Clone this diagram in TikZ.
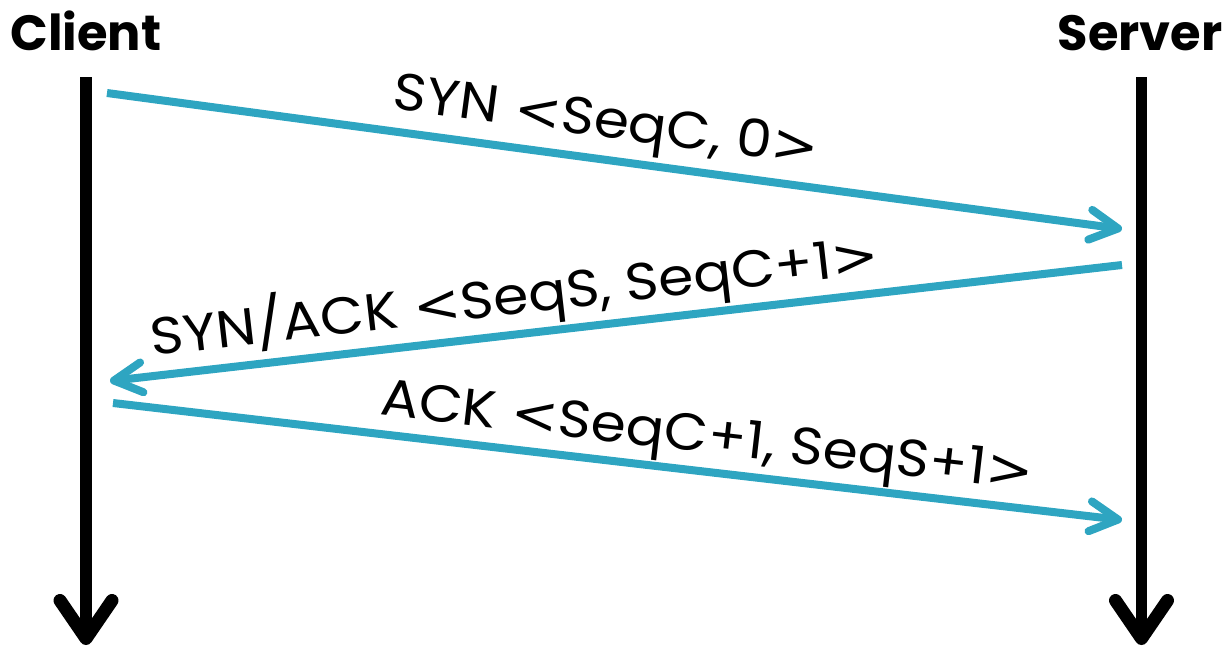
\documentclass[tikz,border=0pt]{standalone}
\usepackage{fontspec}
\setmainfont{Poppins}
\newfontfamily\anglefont{DejaVu Sans}
\usetikzlibrary{arrows.meta}
\definecolor{msgblue}{RGB}{46,165,193}
% angle brackets drawn in a font with full-size glyphs
\newcommand{\lt}{{\anglefont<}}
\newcommand{\gt}{{\anglefont>}}
\newcommand{\msgtext}[2]{\raisebox{#1}{\scalebox{1.09}[1]{#2}}}
\begin{document}
\begin{tikzpicture}[x=1pt,y=-1pt,
  lifeline/.style={line width=11.5pt,
    -{Straight Barb[round, length=38pt, width=52pt, line width=13pt]}},
  msg/.style={draw=msgblue, line width=8pt,
    -{Straight Barb[round, length=28pt, width=30pt]}},
  msglabel/.style={sloped, anchor=base, inner sep=0pt,
    font=\fontsize{52}{60}\selectfont},
  party/.style={font=\fontsize{49.5}{60}\selectfont\bfseries,
    inner sep=0pt, anchor=base}]
\useasboundingbox (0,0) rectangle (1227,646);

% participants
\node[party] (client) at (86,50) {Client};
\node[party] (server) at (1140,50) {Server};

% lifelines
\coordinate (ctop) at (86,77);
\coordinate (cbot) at (86,645);
\coordinate (stop) at (1141.5,77);
\coordinate (sbot) at (1141.5,645);
\draw[lifeline] (ctop) -- (cbot);
\draw[lifeline] (stop) -- (sbot);

% handshake messages
\coordinate (m1s) at (107,93);
\coordinate (m1e) at (1122,229);
\coordinate (m2s) at (1122,265);
\coordinate (m2e) at (110,381);
\coordinate (m3s) at (113,403);
\coordinate (m3e) at (1122,520);

\draw[msg] (m1s) -- node[msglabel, pos=0.487] (l1)
  {\msgtext{22pt}{SYN \lt SeqC, 0\gt}} (m1e);
\draw[msg] (m2s) -- node[msglabel, pos=0.596] (l2)
  {\msgtext{20pt}{SYN/ACK \lt SeqS, SeqC+1\gt}} (m2e);
\draw[msg] (m3s) -- node[msglabel, pos=0.585] (l3)
  {\msgtext{19pt}{ACK \lt SeqC+1, SeqS+1\gt}} (m3e);
\end{tikzpicture}
\end{document}
